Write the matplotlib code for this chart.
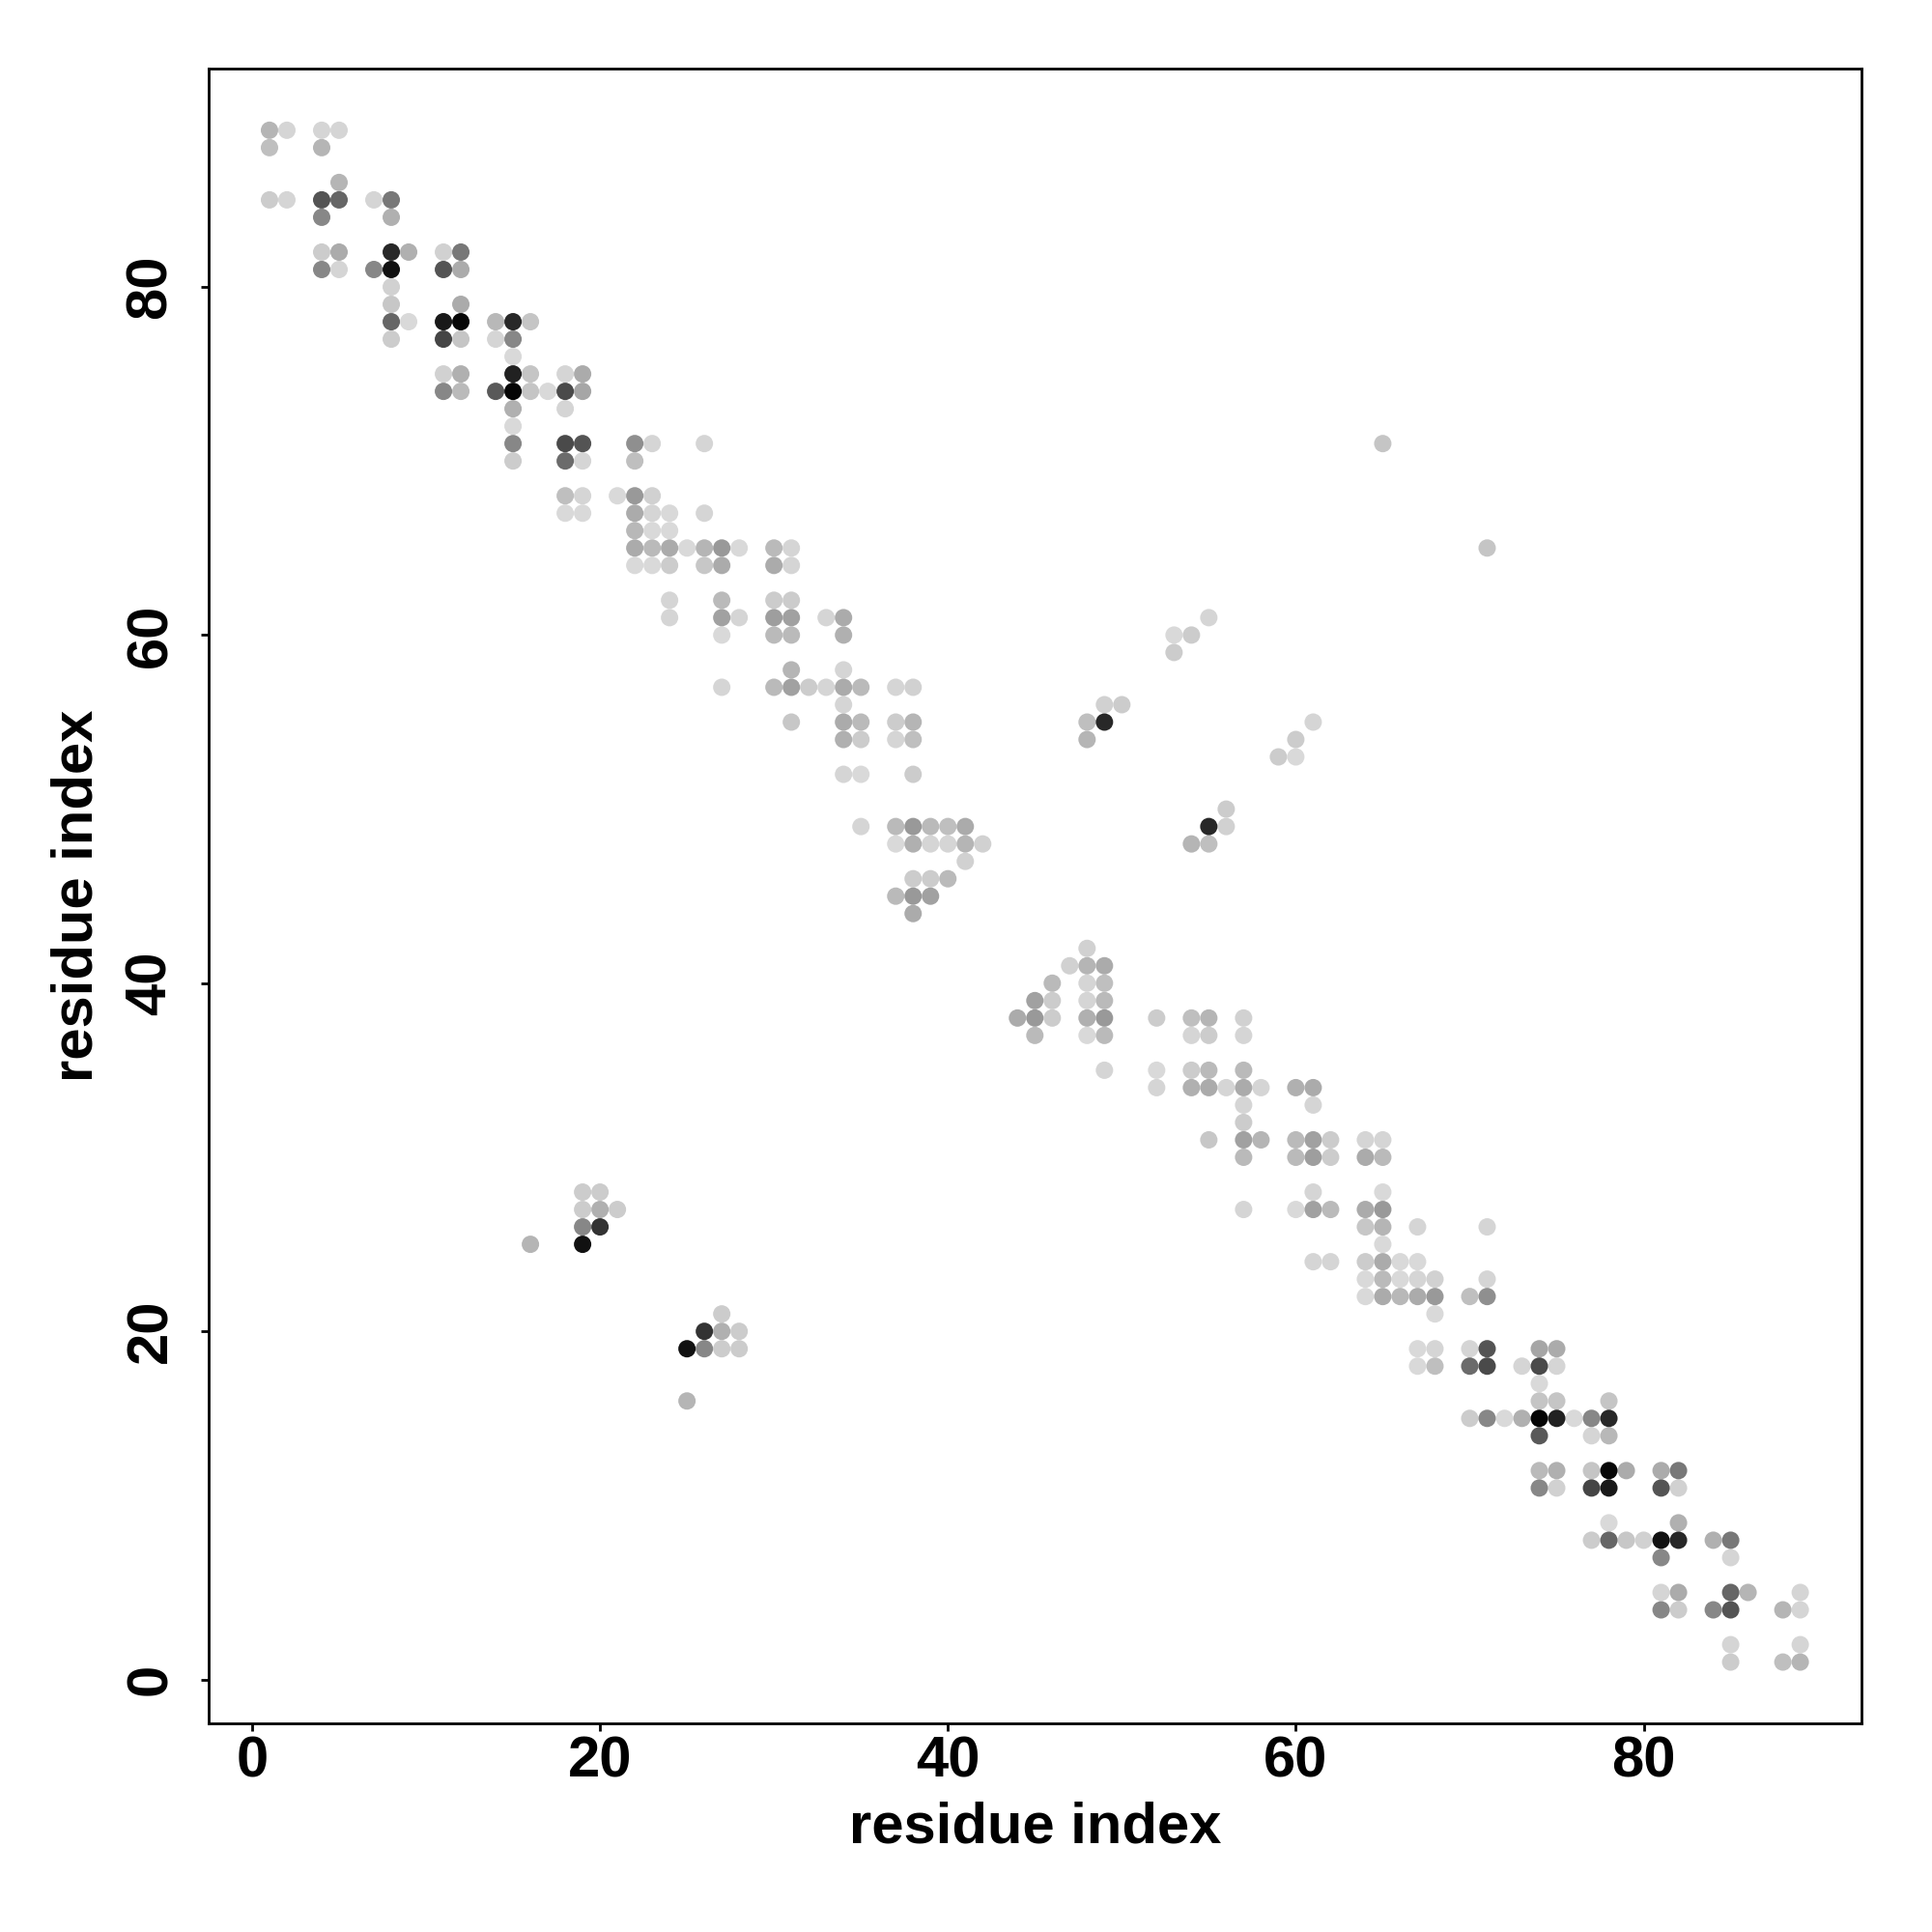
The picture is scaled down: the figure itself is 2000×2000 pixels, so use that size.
import numpy as np
import matplotlib
matplotlib.use("Agg")
import matplotlib.pyplot as plt

# contact map, upper half (i < j); map is symmetric so the other half is the swap
res_i = [1, 2, 1, 4, 5, 4, 5, 1, 2, 4, 5, 4, 7, 8, 8, 4, 5, 4, 5, 8, 9, 7, 8, 8,
         8, 8, 9, 8, 11, 12, 11, 12, 12, 11, 12, 11, 12, 14, 15, 16, 14, 15, 15, 15,
         16, 11, 12, 11, 12, 14, 15, 16, 17, 18, 19, 18, 19, 15, 18, 15, 15, 18, 19,
         15, 18, 19, 22, 23, 26, 22, 18, 19, 18, 19, 21, 22, 23, 22, 23, 24, 26, 22,
         23, 24, 22, 23, 24, 25, 26, 27, 28, 22, 23, 24, 26, 27, 30, 31, 30, 31, 24,
         24, 27, 27, 28, 27, 30, 31, 30, 31, 30, 31, 33, 34, 34, 31, 27, 30, 31, 32,
         33, 34, 35, 34, 34, 37, 38, 31, 34, 35, 34, 35, 37, 38, 37, 38, 34, 35, 38,
         35, 37, 38, 39, 40, 41, 37, 38, 39, 40, 41, 42, 41, 38, 39, 40, 37, 38, 39,
         38, 48, 48, 49, 49, 50, 53, 53, 54, 55, 65, 19, 20, 19, 20, 21, 19, 20, 19,
         16]
res_j = [89, 89, 88, 89, 89, 88, 86, 85, 85, 85, 85, 84, 85, 85, 84, 82, 82, 81, 81, 82,
         82, 81, 81, 80, 79, 78, 78, 77, 82, 82, 81, 81, 79, 78, 78, 77, 77, 78, 78, 78,
         77, 77, 76, 75, 75, 75, 75, 74, 74, 74, 74, 74, 74, 75, 75, 74, 74, 73, 73, 72,
         71, 71, 71, 70, 70, 70, 71, 71, 71, 70, 68, 68, 67, 67, 68, 68, 68, 67, 67, 67,
         67, 66, 66, 66, 65, 65, 65, 65, 65, 65, 65, 64, 64, 64, 64, 64, 65, 65, 64, 64,
         62, 61, 62, 61, 61, 60, 62, 62, 61, 61, 60, 60, 61, 61, 60, 58, 57, 57, 57, 57,
         57, 57, 57, 58, 56, 57, 57, 55, 55, 55, 54, 54, 55, 55, 54, 54, 52, 52, 52, 49,
         49, 49, 49, 49, 49, 48, 48, 48, 48, 48, 48, 47, 46, 46, 46, 45, 45, 45, 44, 54,
         55, 55, 56, 56, 59, 60, 60, 61, 71, 28, 28, 27, 27, 27, 26, 26, 25, 25]
contact_prob = [.29, .165, .25, .165, .165, .29, .29, .2, .165, .67, .6, .47, .165, .53, .31,
                .2, .33, .47, .165, .84, .31, .47, .93, .18, .22, .6, .15, .2, .18, .53, .67,
                .33, .33, .9, .97, .73, .23, .28, .84, .23, .165, .47, .15, .87, .23, .18,
                .31, .47, .27, .65, .98, .23, .15, .165, .33, .71, .35, .31, .165, .15, .47,
                .71, .67, .2, .58, .165, .44, .165, .165, .25, .25, .165, .15, .15, .15, .4,
                .18, .33, .165, .15, .165, .28, .15, .15, .33, .27, .33, .15, .29, .4, .15,
                .15, .15, .2, .22, .33, .27, .165, .33, .165, .165, .165, .27, .37, .165, .15,
                .2, .2, .38, .37, .27, .27, .165, .33, .31, .29, .165, .27, .37, .2, .165, .33,
                .27, .165, .165, .165, .18, .22, .33, .27, .31, .2, .2, .29, .165, .25, .165,
                .15, .2, .165, .27, .4, .27, .25, .33, .15, .31, .165, .165, .29, .18, .18,
                .2, .2, .27, .27, .4, .37, .33, .29, .25, .84, .18, .2, .2, .15, .2, .165, .23,
                .2, .2, .2, .31, .2, .47, .8, .93, .29]

x = np.array(res_i + res_j)
y = np.array(res_j + res_i)
c = np.array(contact_prob + contact_prob)
order = np.argsort(c)

plt.rcParams['font.family'] = 'Liberation Sans'
plt.rcParams['font.weight'] = 'bold'

fig = plt.figure(figsize=(10, 10), dpi=200)
ax = fig.add_axes([0.1078, 0.108, 0.8557, 0.8563])

ax.scatter(x[order], y[order], c=c[order], cmap='gray_r', vmin=0, vmax=1,
           s=42, linewidths=0)

ax.set_xlim(-2.52, 92.52)
ax.set_ylim(-2.52, 92.52)
ax.set_xticks([0, 20, 40, 60, 80])
ax.set_yticks([0, 20, 40, 60, 80])
for s in ax.spines.values():
    s.set_linewidth(1.0)
ax.tick_params(direction='out', length=2.9, width=1.0, labelsize=21.5, pad=1.5)
ax.tick_params(axis='y', pad=8.5)
for lab in ax.get_yticklabels():
    lab.set_rotation(90)
    lab.set_va('center')

ax.set_xlabel('residue index', fontsize=21.5, fontweight='bold')
ax.set_ylabel('residue index', fontsize=21.5, fontweight='bold')
ax.xaxis.set_label_coords(0.5, -0.063)
ax.xaxis.label.set_va('center')
ax.yaxis.set_label_coords(-0.0793, 0.5)
ax.yaxis.label.set_va('center')

plt.savefig('out.png', dpi=200)
